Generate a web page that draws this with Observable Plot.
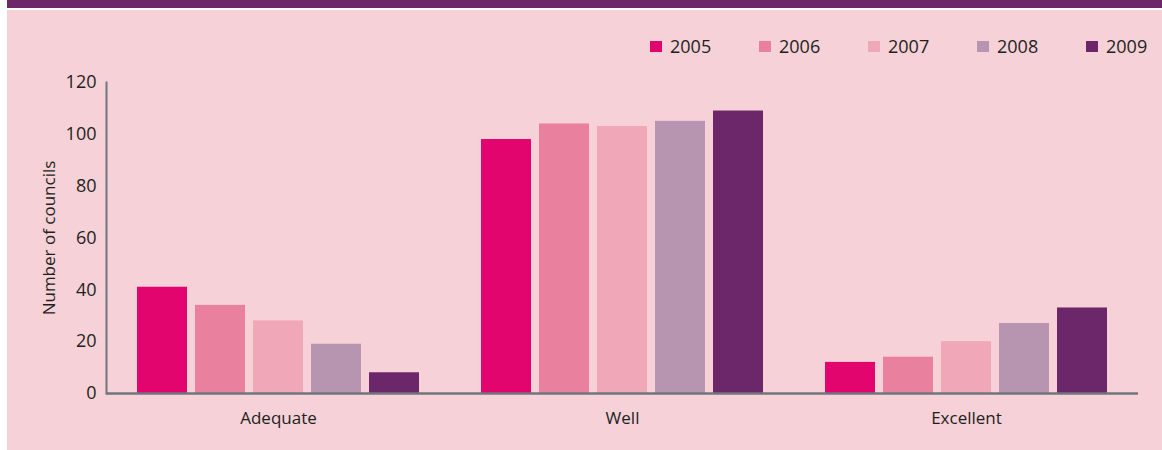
<!DOCTYPE html>
<html><head><meta charset="utf-8">
<script src="https://cdn.jsdelivr.net/npm/d3@7"></script>
<script src="https://cdn.jsdelivr.net/npm/@observablehq/plot@0.6"></script>
<style>
html,body{margin:0;padding:0;background:#fff;width:1162px;height:450px;overflow:hidden;font-family:"Open Sans",sans-serif;}
#band{position:absolute;left:7px;top:0;width:1155px;height:8px;background:#6c2669;}
#panel{position:absolute;left:7px;top:10px;width:1155px;height:440px;background:#f6d1d8;}
#legend{position:absolute;left:650px;top:36px;display:flex;}
.item{width:109px;display:flex;align-items:center;font-size:18px;color:#231f20;line-height:20px}
.sw{width:12px;height:11px;margin-right:8px}
#chart{position:absolute;left:7px;top:62px;}
#chart svg text{fill:#231f20;}
</style></head><body>
<div id="band"></div><div id="panel"></div><div id="legend"></div><div id="chart"></div>
<script>
const ratings = ["Adequate", "Well", "Excellent"];
const years = ["2005", "2006", "2007", "2008", "2009"];
const adequate = [41, 34, 28, 19, 8];
const well = [98, 104, 103, 105, 109];
const excellent = [12, 14, 20, 27, 33];
const colors = ["#e1056d", "#e9819e", "#f0a7b8", "#b795b0", "#6c276a"];
const yTicks = [0, 20, 40, 60, 80, 100, 120];

const series = [adequate, well, excellent];
const data = ratings.flatMap((r, i) => years.map((y, j) => ({rating: r, year: y, value: series[i][j]})));

const legend = d3.select("#legend");
years.forEach((y, i) => {
  const it = legend.append("div").attr("class", "item");
  it.append("div").attr("class", "sw").style("background", colors[i]);
  it.append("span").text(y);
});

const plot = Plot.plot({
  width: 1155, height: 388,
  marginLeft: 98, marginRight: 24, marginTop: 20, marginBottom: 57,
  style: {background: "transparent", fontFamily: "Open Sans", fontSize: "17px", color: "#6f767d"},
  fx: {domain: ratings, paddingInner: 0, paddingOuter: 0, label: null, tickSize: 0, tickPadding: 18, axis: "bottom"},
  x: {domain: years, paddingInner: 0.14, paddingOuter: 0.528, axis: null},
  y: {domain: [0, 120], ticks: yTicks, tickSize: 0, tickPadding: 10, label: "Number of councils", labelArrow: false, labelAnchor: "center", labelOffset: 64, line: true},
  color: {domain: years, range: colors},
  marks: [
    Plot.barY(data, {fx: "rating", x: "year", y: "value", fill: "year"}),
    Plot.ruleY([0], {stroke: "#6f767d", strokeWidth: 2.5})
  ]
});
d3.select(plot).selectAll("g[aria-label='y-axis tick label'] text").style("font-size", "18px");
d3.select(plot).selectAll("line").each(function() {
  const l = d3.select(this);
  if (l.attr("x1") !== null && l.attr("x1") === l.attr("x2")) l.attr("stroke-width", 2).attr("stroke", "#6f767d");
});
d3.select(plot).selectAll("g[aria-label*='frame'], g[aria-label*='line']").attr("stroke-width", 2).attr("stroke", "#6f767d");
document.getElementById("chart").appendChild(plot);
</script>
</body></html>
